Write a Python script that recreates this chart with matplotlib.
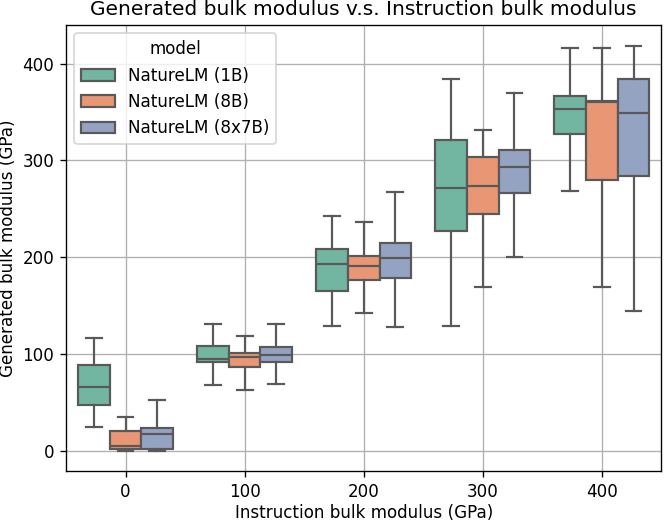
import colorsys
import matplotlib
matplotlib.use("Agg")
import matplotlib.pyplot as plt
from matplotlib.patches import Patch

# values (GPa)
instruction = [0, 100, 200, 300, 400]
models = ["NatureLM (1B)", "NatureLM (8B)", "NatureLM (8x7B)"]

# per model, per instruction value: whisker low, Q1, median, Q3, whisker high
lo_1b = [24, 68, 129, 129, 268]
q1_1b = [47, 92, 165, 227, 327]
med_1b = [66, 94.5, 193, 271.5, 353]
q3_1b = [89, 108, 209, 321, 367]
hi_1b = [116, 131, 243, 384, 416]

lo_8b = [0, 62.5, 142, 169, 169]
q1_8b = [1.5, 86, 176, 245, 280]
med_8b = [4.5, 97, 191, 274, 360]
q3_8b = [20.5, 101.5, 201, 303.5, 362]
hi_8b = [35, 119, 236, 332, 416]

lo_8x7b = [0, 69, 127.5, 200, 144]
q1_8x7b = [1.3, 92, 179, 266, 283.5]
med_8x7b = [17.5, 99, 199, 293, 349]
q3_8x7b = [23, 107, 215, 311, 384]
hi_8x7b = [52.5, 130.5, 267, 370, 418.5]

stats_by_model = [
    (lo_1b, q1_1b, med_1b, q3_1b, hi_1b),
    (lo_8b, q1_8b, med_8b, q3_8b, hi_8b),
    (lo_8x7b, q1_8x7b, med_8x7b, q3_8x7b, hi_8x7b),
]

set2 = ["#66c2a5", "#fc8d62", "#8da0cb"]


def desaturate(hexcol, prop=0.75):
    rgb = matplotlib.colors.to_rgb(hexcol)
    h, l, s = colorsys.rgb_to_hls(*rgb)
    return colorsys.hls_to_rgb(h, l, s * prop)


colors = [desaturate(c) for c in set2]
line_gray = "#595959"

# the reference looks like a default figure saved at a higher dpi
dpi = 121
fig = plt.figure(figsize=(664 / dpi, 522 / dpi), dpi=dpi)
ax = fig.add_axes([0.0994, 0.0977, 0.8966, 0.8543])
ax.set_axisbelow(True)
ax.grid(True, color="#b0b0b0", linewidth=0.8)

width = 0.8 / len(models)
lw = 1.3
for j, (lo, q1, med, q3, hi) in enumerate(stats_by_model):
    offset = (j - 1) * width
    stats = []
    for k in range(len(instruction)):
        stats.append({"whislo": lo[k], "q1": q1[k], "med": med[k],
                      "q3": q3[k], "whishi": hi[k], "fliers": []})
    positions = [k + offset for k in range(len(instruction))]
    ax.bxp(stats, positions=positions, widths=width, capwidths=width / 2,
           patch_artist=True, showfliers=False, manage_ticks=False,
           boxprops=dict(facecolor=colors[j], edgecolor=line_gray, linewidth=lw),
           medianprops=dict(color=line_gray, linewidth=lw),
           whiskerprops=dict(color=line_gray, linewidth=lw),
           capprops=dict(color=line_gray, linewidth=lw))

ax.set_xlim(-0.5, len(instruction) - 0.5)
ax.set_xticks(range(len(instruction)))
ax.set_xticklabels([str(v) for v in instruction])
ax.set_ylim(-21, 440)
ax.set_yticks([0, 100, 200, 300, 400])

ax.set_xlabel("Instruction bulk modulus (GPa)", labelpad=2)
ax.set_ylabel("Generated bulk modulus (GPa)", labelpad=3)
ax.set_title("Generated bulk modulus v.s. Instruction bulk modulus")

handles = [Patch(facecolor=colors[j], edgecolor=line_gray, linewidth=lw, label=m)
           for j, m in enumerate(models)]
ax.legend(handles=handles, title="model", loc="upper left")

fig.savefig("out.png", dpi=dpi)
